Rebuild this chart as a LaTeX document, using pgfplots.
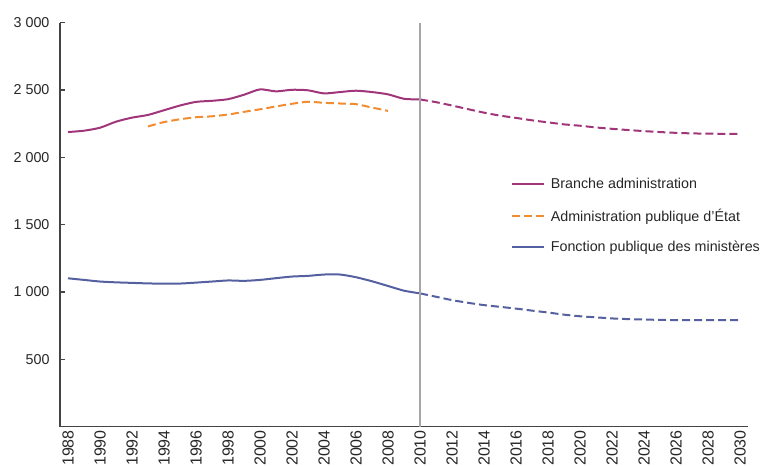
\documentclass[border=0pt]{standalone}
\usepackage{fontspec}
\setmainfont{Liberation Sans}
\usepackage{pgfplots}
\pgfplotsset{compat=1.18}
\definecolor{branche}{HTML}{A0357A}
\definecolor{etat}{HTML}{F28C30}
\definecolor{ministeres}{HTML}{5560A0}
\definecolor{axisgray}{HTML}{444444}
\definecolor{txt}{HTML}{262626}

\pgfplotstableread{
year val
1988 2188
1989 2198
1990 2220
1991 2265
1992 2295
1993 2315
1994 2350
1995 2385
1996 2412
1997 2420
1998 2432
1999 2465
2000 2505
2001 2490
2002 2502
2003 2498
2004 2475
2005 2485
2006 2495
2007 2485
2008 2468
2009 2435
2010 2430
}\brancheobs
\pgfplotstableread{
year val
2010 2430
2011 2410
2012 2385
2013 2358
2014 2332
2015 2310
2016 2293
2017 2275
2018 2260
2019 2245
2020 2235
2021 2222
2022 2212
2023 2203
2024 2195
2025 2188
2026 2182
2027 2178
2028 2176
2029 2175
2030 2174
}\branchepro
\pgfplotstableread{
year val
1993 2230
1994 2262
1995 2283
1996 2298
1997 2305
1998 2318
1999 2338
2000 2357
2001 2378
2002 2398
2003 2413
2004 2405
2005 2400
2006 2395
2007 2370
2008 2345
}\etat
\pgfplotstableread{
year val
1988 1102
1989 1090
1990 1078
1991 1072
1992 1068
1993 1064
1994 1062
1995 1063
1996 1070
1997 1078
1998 1086
1999 1083
2000 1090
2001 1103
2002 1115
2003 1120
2004 1130
2005 1130
2006 1110
2007 1080
2008 1045
2009 1010
2010 990
}\fpobs
\pgfplotstableread{
year val
2010 990
2011 965
2012 940
2013 920
2014 903
2015 890
2016 877
2017 862
2018 848
2019 832
2020 820
2021 812
2022 804
2023 799
2024 796
2025 793
2026 792
2027 792
2028 792
2029 792
2030 792
}\fppro

\begin{document}
\begin{tikzpicture}
\useasboundingbox (-60pt,-39.3pt) rectangle (702pt,426.7pt);
\begin{axis}[
    at={(0pt,0pt)}, anchor=south west,
    scale only axis, width=688pt, height=404pt,
    xmin=1987.5, xmax=2030.5, ymin=0, ymax=3000,
    axis lines=left, axis line style={axisgray, line width=1.4pt, -},
    tick align=inside,
    major tick length=5pt, minor tick length=5pt,
    every tick/.style={axisgray, line width=1.2pt},
    xtick={1988,1990,...,2030},
    x tick style={draw=none},
    minor xtick={1987.5,1988.5,...,2030.5},
    ytick={500,1000,...,3000},
    /pgf/number format/assume math mode=true,
    /pgf/number format/1000 sep={\ },
    every x tick label/.append style={rotate=90, anchor=east, font=\fontsize{16}{18}\selectfont,
        text=txt, /pgf/number format/1000 sep={}},
    every y tick label/.append style={xshift=-7pt, font=\fontsize{14.3}{17}\selectfont, text=txt},
    legend style={draw=none, fill=none, at={(0.655,0.62)}, anchor=north west,
        inner sep=0pt, row sep=14.5pt, font=\fontsize{14.3}{17}\selectfont, text=txt,
        /tikz/every odd column/.append style={column sep=4pt}},
    legend cell align=left,
    legend image code/.code={\draw[#1] (0pt,0pt) -- (32pt,0pt);},
    every axis plot/.append style={line width=2pt, smooth, tension=0.4},
]
\addplot[branche] table[x=year, y=val] {\brancheobs};
\addlegendentry{Branche administration}
\addplot[etat, dash pattern=on 8pt off 4pt] table[x=year, y=val] {\etat};
\addlegendentry{Administration publique d’État}
\addplot[ministeres] table[x=year, y=val] {\fpobs};
\addlegendentry{Fonction publique des ministères}
\addplot[branche, dash pattern=on 8pt off 4pt, forget plot] table[x=year, y=val] {\branchepro};
\addplot[ministeres, dash pattern=on 8pt off 4pt, forget plot] table[x=year, y=val] {\fppro};
\addplot[gray!70, line width=1.2pt, forget plot, smooth=false] coordinates {(2010,0) (2010,3000)};
\end{axis}
\end{tikzpicture}
\end{document}
